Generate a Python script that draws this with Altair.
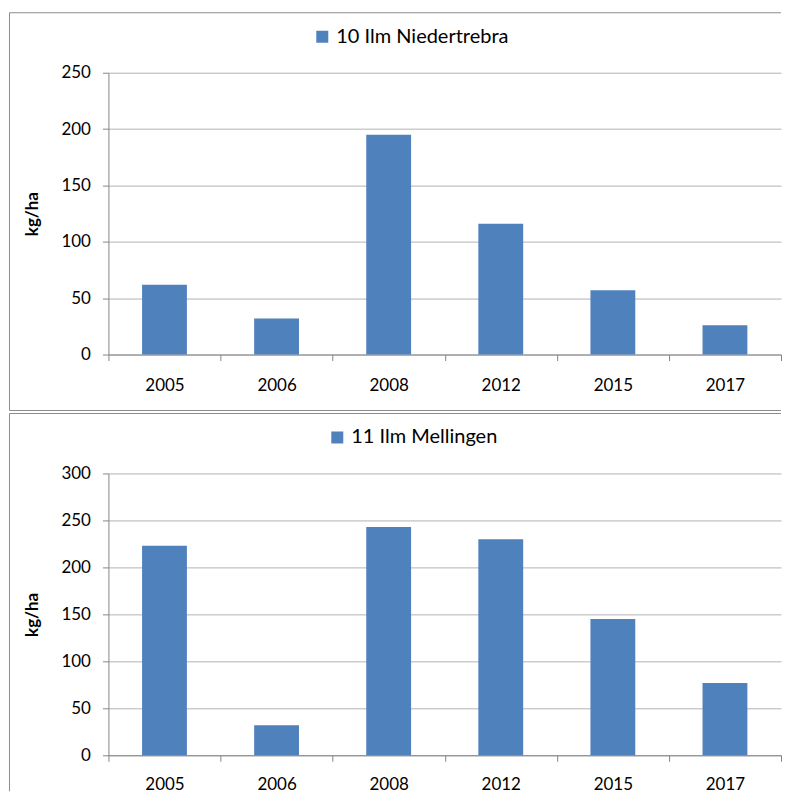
import altair as alt
import pandas as pd

years = ["2005", "2006", "2008", "2012", "2015", "2017"]
niedertrebra = [62, 32, 195, 116, 57, 26]
mellingen = [223, 32, 243, 230, 145, 77]
name_top = "10 Ilm Niedertrebra"
name_bottom = "11 Ilm Mellingen"
ticks_top = [0, 50, 100, 150, 200, 250]
ticks_bottom = [0, 50, 100, 150, 200, 250, 300]

W, H = 673, 282
FONT = "Lato"
BAR = "#4F81BD"
BORDER = "#8c8c8c"
one = pd.DataFrame({"k": [0]})


def panel(values, name, yticks, legend_x, top_y, bottom_y, close_bottom, xpad):
    df = pd.DataFrame({"year": years, "value": values, "series": name})
    bars = alt.Chart(df).mark_bar(width=alt.RelativeBandSize(0.4)).encode(
        x=alt.X("year:N", sort=years, title=None,
                scale=alt.Scale(paddingInner=0, paddingOuter=0),
                axis=alt.Axis(labelAngle=0, tickBand="extent", grid=False,
                              tickSize=6, labelPadding=xpad)),
        y=alt.Y("value:Q", scale=alt.Scale(domain=[yticks[0], yticks[-1]], nice=False),
                axis=alt.Axis(values=yticks, title="kg/ha", grid=True, tickSize=6,
                              labelPadding=12, titleX=-76, titleY=H / 2, titleAngle=270,
                              titleAlign="center", titleBaseline="middle",
                              titleFontWeight="bold", titleFontSize=17)),
        color=alt.Color("series:N", scale=alt.Scale(domain=[name], range=[BAR]),
                        legend=alt.Legend(orient="none", legendX=legend_x, legendY=-46,
                                          title=None, symbolType="square", symbolSize=144,
                                          symbolStrokeWidth=0, labelFontSize=20,
                                          labelLimit=0,
                                          labelFont=FONT, labelOffset=4, padding=0)),
    )
    top_rule = alt.Chart(one).mark_rule(color=BORDER).encode(
        x=alt.value(-99), x2=alt.value(W), y=alt.value(top_y))
    left_rule = alt.Chart(one).mark_rule(color=BORDER).encode(
        x=alt.value(-99), y=alt.value(top_y), y2=alt.value(bottom_y))
    layers = [top_rule, left_rule]
    if close_bottom:
        layers.append(alt.Chart(one).mark_rule(color=BORDER).encode(
            x=alt.value(-99), x2=alt.value(W), y=alt.value(bottom_y)))
    layers.append(bars)
    return alt.layer(*layers).properties(width=W, height=H)


top_chart = panel(niedertrebra, name_top, ticks_top, 204, -60, 338, True, 17)
bottom_chart = panel(mellingen, name_bottom, ticks_bottom, 219, -60, H + 36, False, 15)

chart = alt.vconcat(top_chart, bottom_chart, spacing=1).resolve_scale(
    color="independent"
).resolve_legend(color="independent").properties(
    padding={"left": 0.5, "top": 3.5, "right": 0, "bottom": 0}
).configure_view(stroke=None).configure_axis(
    labelFont=FONT, labelFontSize=17, labelColor="#000000",
    titleFont=FONT, titleColor="#000000",
    domainColor="#868686", tickColor="#868686", gridColor="#b3b3b3"
)

chart.save("out.html", embed_options={"renderer": "svg", "actions": False})
